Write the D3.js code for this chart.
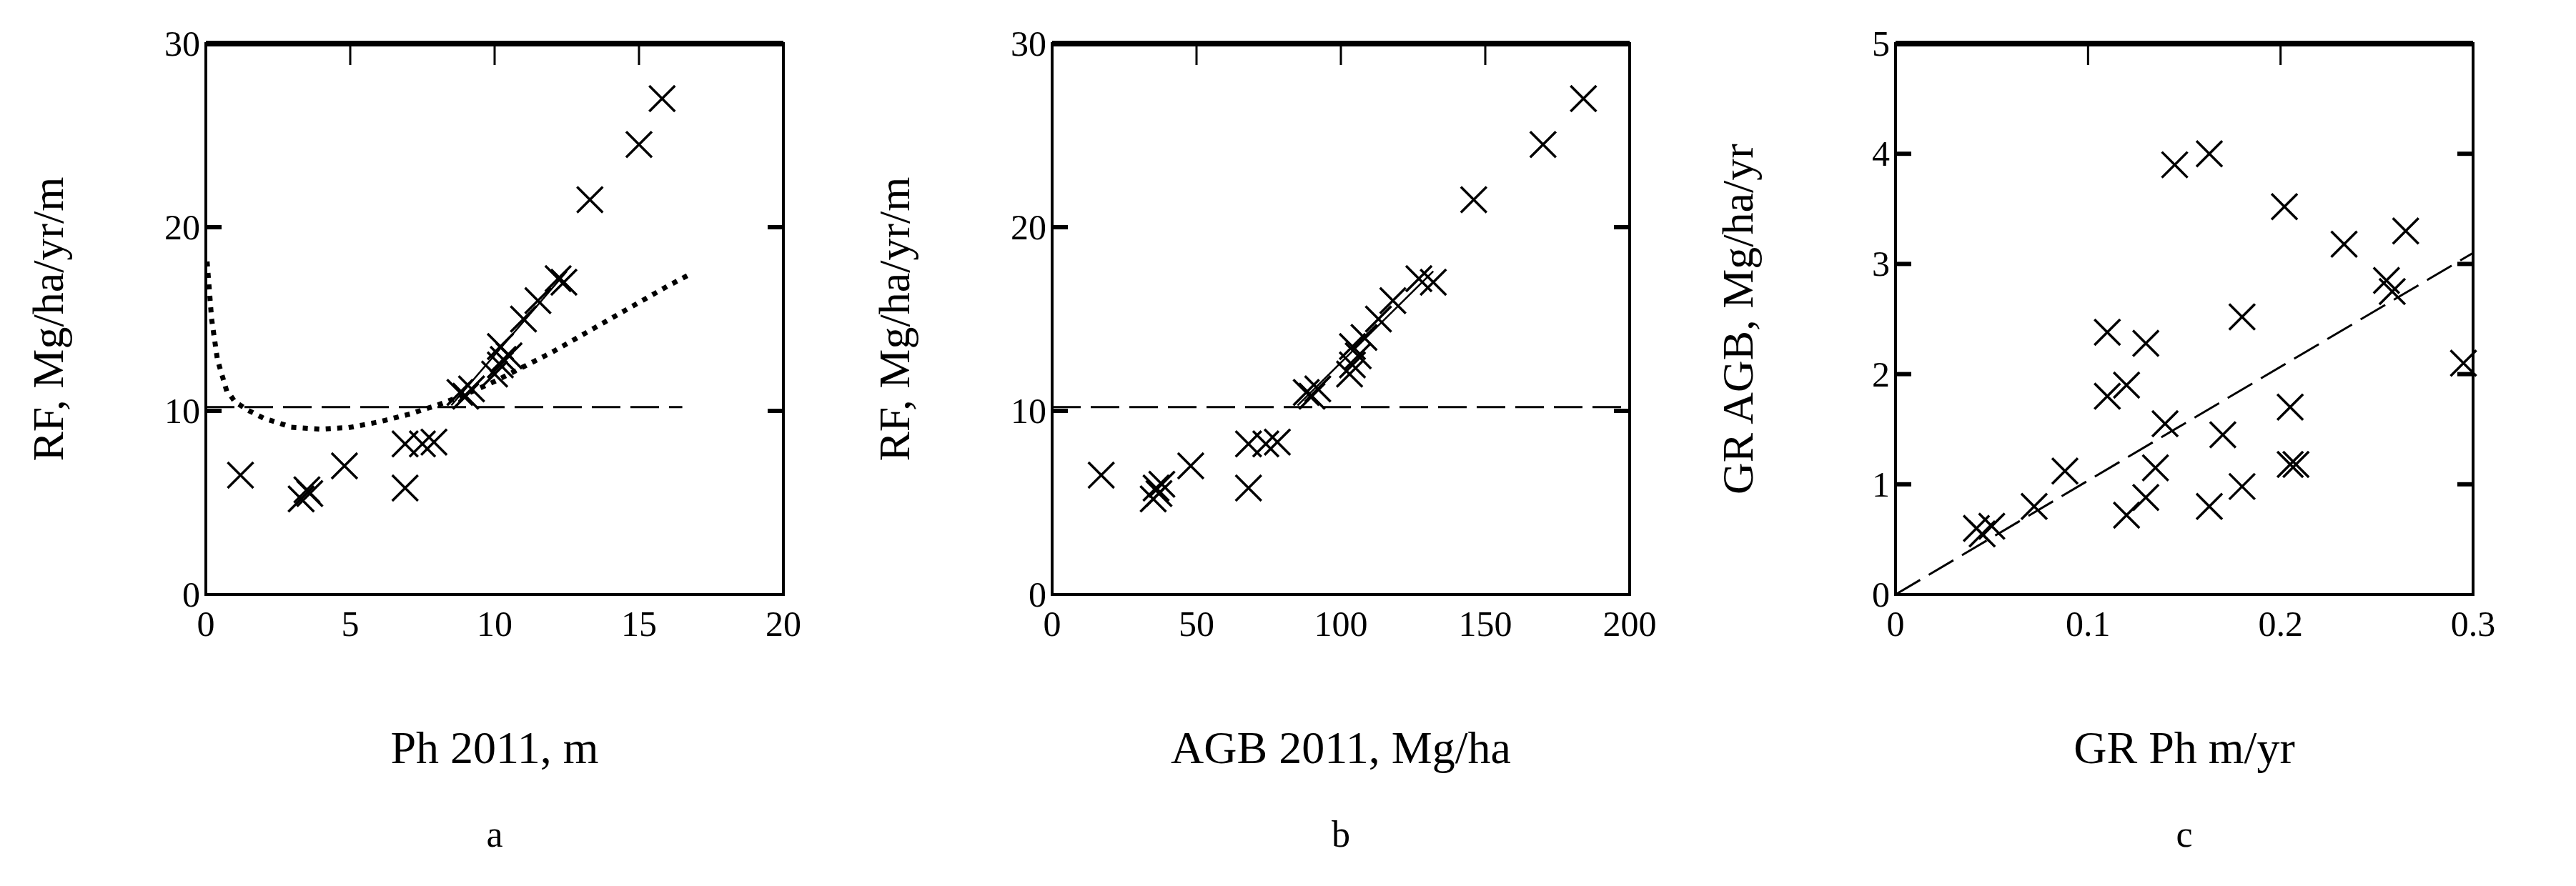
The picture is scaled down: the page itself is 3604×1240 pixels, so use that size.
<!DOCTYPE html>
<html><head><meta charset="utf-8">
<script src="https://cdn.jsdelivr.net/npm/d3@7"></script>
<style>body{margin:0;background:#fff}svg{display:block}</style>
</head><body>
<svg id="c" width="3604" height="1240"></svg>
<script>
const aX=[1.2,3.3,3.5,3.6,4.8,6.9,6.9,7.5,7.9,8.8,9.0,9.2,10.0,10.2,10.2,10.5,10.3,11,11.5,12.2,12.4,13.3,15,15.8];
const aY=[6.5,5.2,5.7,5.5,7.0,5.8,8.2,8.2,8.3,11,10.8,11.2,12.0,12.5,13.5,13,12.8,15,16,17.2,17.0,21.5,24.5,27];
const aCurveX=[0.05,0.2,0.4,0.7,1,1.5,2,3,4,5,6,7,8,9,10,11,12,13,14,15,16,16.6];
const aCurveY=[18,15,12.8,11.2,10.5,10,9.6,9.1,9.0,9.1,9.4,9.8,10.3,10.9,11.6,12.4,13.2,14.1,15.0,15.9,16.8,17.3];
const bX=[17,35,36,37,38,48,68,68,74,78,88,90,92,103,104,104,106,108,113,118,127,132,146,170,184];
const bY=[6.5,5.2,5.8,5.5,6,7,5.8,8.2,8.2,8.3,11,10.8,11.2,12,12.5,13.5,13,14,15,16,17.2,17.0,21.5,24.5,27];
const cX=[0.042,0.045,0.05,0.072,0.088,0.11,0.11,0.12,0.12,0.13,0.13,0.135,0.14,0.145,0.163,0.163,0.17,0.18,0.18,0.202,0.205,0.205,0.208,0.233,0.255,0.258,0.265,0.295];
const cY=[0.6,0.55,0.62,0.8,1.12,2.38,1.8,1.9,0.72,2.28,0.88,1.15,1.55,3.9,4.0,0.8,1.45,2.52,0.98,3.52,1.7,1.18,1.18,3.18,2.85,2.75,3.3,2.1];
const aTicksX=[0,5,10,15,20], bTicksX=[0,50,100,150,200], cTicksX=[0,0.1,0.2,0.3];
const abTicksY=[0,10,20,30], cTicksY=[0,1,2,3,4,5];
const aFlat=[[0,10.2],[16.5,10.2]], bFlat=[[0,10.2],[200,10.2]];
const aFit=[[8.5,10.3],[12.5,17.6]], bFit=[[85,10.3],[132,17.6]];
const cFit=[[0,0],[0.3,3.1]];

const svg=d3.select("#c");
const font="'Liberation Serif','Times New Roman',serif";
const T=29, B=832;
function panel(o){
  const x=d3.scaleLinear().domain(o.xd).range([o.L,o.L+808]);
  const y=d3.scaleLinear().domain(o.yd).range([B,T+32]);
  const g=svg.append("g");
  const y0=y.range()[1];
  g.append("rect").attr("x",o.L).attr("y",y0).attr("width",808).attr("height",B-y0)
   .attr("fill","none").attr("stroke","#000").attr("stroke-width",4);
  g.append("line").attr("x1",o.L).attr("x2",o.L+808).attr("y1",y0).attr("y2",y0).attr("stroke","#000").attr("stroke-width",8);
  o.xt.slice(1,-1).forEach(t=>{
    g.append("line").attr("x1",x(t)).attr("x2",x(t)).attr("y1",y0).attr("y2",y0+30).attr("stroke","#000").attr("stroke-width",3);
  });
  o.yt.slice(1,-1).forEach(t=>{
    g.append("line").attr("x1",o.L).attr("x2",o.L+22).attr("y1",y(t)).attr("y2",y(t)).attr("stroke","#000").attr("stroke-width",6);
    g.append("line").attr("x1",o.L+786).attr("x2",o.L+808).attr("y1",y(t)).attr("y2",y(t)).attr("stroke","#000").attr("stroke-width",6);
  });
  o.xt.forEach(t=>g.append("text").attr("x",x(t)).attr("y",B+58).attr("text-anchor","middle")
    .attr("font-family",font).attr("font-size",50).text(t));
  o.yt.forEach(t=>g.append("text").attr("x",o.L-8).attr("y",y(t)+17).attr("text-anchor","end")
    .attr("font-family",font).attr("font-size",50).text(t));
  g.append("text").attr("x",o.L+404).attr("y",1068).attr("text-anchor","middle")
    .attr("font-family",font).attr("font-size",64).text(o.xl);
  g.append("text").attr("x",o.L+404).attr("y",1185).attr("text-anchor","middle")
    .attr("font-family",font).attr("font-size",52).text(o.tag);
  g.append("text").attr("transform",`translate(${o.L-200},${(y0+B)/2}) rotate(-90)`).attr("text-anchor","middle")
    .attr("font-family",font).attr("font-size",62).text(o.yl);
  const line=d3.line().x(d=>x(d[0])).y(d=>y(d[1]));
  (o.lines||[]).forEach(l=>g.append("path").attr("d",line(l.d)).attr("fill","none").attr("stroke","#000")
    .attr("stroke-width",l.w).attr("stroke-dasharray",l.dash||null).attr("stroke-linecap",l.cap||"butt"));
  const s=18;
  o.px.forEach((v,i)=>{
    const cx=x(v), cy=y(o.py[i]);
    g.append("path").attr("d",`M${cx-s},${cy-s}L${cx+s},${cy+s}M${cx+s},${cy-s}L${cx-s},${cy+s}`)
      .attr("stroke","#000").attr("stroke-width",3.5).attr("fill","none");
  });
}
panel({L:288,xd:[0,20],yd:[0,30],xt:aTicksX,yt:abTicksY,px:aX,py:aY,xl:"Ph 2011, m",yl:"RF, Mg/ha/yr/m",tag:"a",
  lines:[{d:aFlat,w:3,dash:"40 14"},{d:aFit,w:2.5},{d:d3.zip(aCurveX,aCurveY),w:7,dash:"0.1 16",cap:"square"}]});
panel({L:1472,xd:[0,200],yd:[0,30],xt:bTicksX,yt:abTicksY,px:bX,py:bY,xl:"AGB 2011, Mg/ha",yl:"RF, Mg/ha/yr/m",tag:"b",
  lines:[{d:bFlat,w:3,dash:"40 14"},{d:bFit,w:2.5}]});
panel({L:2652,xd:[0,0.3],yd:[0,5],xt:cTicksX,yt:cTicksY,px:cX,py:cY,xl:"GR Ph m/yr",yl:"GR AGB, Mg/ha/yr",tag:"c",
  lines:[{d:cFit,w:3,dash:"40 14"}]});
</script>
</body></html>
